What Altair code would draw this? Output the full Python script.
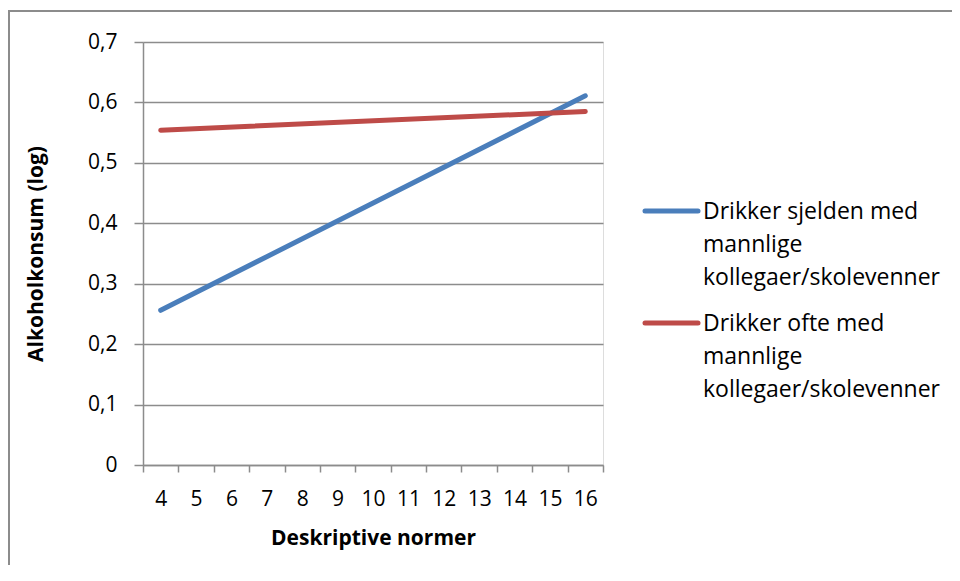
import altair as alt
import pandas as pd

# ---- data ----
x_vals = [4, 16]
blue_vals = [0.256, 0.611]
red_vals = [0.554, 0.585]
series_names = [
    "Drikker sjelden med mannlige kollegaer/skolevenner",
    "Drikker ofte med mannlige kollegaer/skolevenner",
]
legend_lines = [
    "Drikker sjelden med\nmannlige\nkollegaer/skolevenner",
    "Drikker ofte med\nmannlige\nkollegaer/skolevenner",
]
colors = ["#4A7EBB", "#BE4B48"]
x_ticks = [3.5 + 0.5 * i for i in range(27)]
y_ticks = [0, 0.1, 0.2, 0.3, 0.4, 0.5, 0.6, 0.7]

rows = []
for x, v in zip(x_vals, blue_vals):
    rows.append({"x": x, "y": v, "series": series_names[0]})
for x, v in zip(x_vals, red_vals):
    rows.append({"x": x, "y": v, "series": series_names[1]})
df = pd.DataFrame(rows)

FONT = "Open Sans"
GRID = "#8C8C8C"

x_enc = alt.X(
    "x:Q",
    scale=alt.Scale(domain=[3.5, 16.5], nice=False, zero=False),
    axis=alt.Axis(
        values=x_ticks,
        title="Deskriptive normer",
        titleFont=FONT,
        titleFontSize=21,
        titleFontWeight="bold",
        titleColor="black",
        titlePadding=18,
        labelFont=FONT,
        labelFontSize=21,
        labelColor="black",
        labelPadding=16,
        labelOverlap=False,
        labelBound=False,
        labelFlush=False,
        labelExpr="datum.value % 1 == 0 ? format(datum.value, 'd') : ''",
        tickSize=7,
        tickColor=GRID,
        tickWidth=1.5,
        tickOpacity={"condition": {"test": "datum.value % 1 == 0", "value": 0}, "value": 1},
        domainColor=GRID,
        domainWidth=1.5,
        grid=False,
    ),
)
y_enc = alt.Y(
    "y:Q",
    scale=alt.Scale(domain=[0, 0.7], nice=False),
    axis=alt.Axis(
        values=y_ticks,
        title="Alkoholkonsum (log)",
        titleFont=FONT,
        titleFontSize=21,
        titleFontWeight="bold",
        titleColor="black",
        titlePadding=41,
        labelFont=FONT,
        labelFontSize=21,
        labelColor="black",
        labelPadding=17,
        labelExpr="datum.value == 0 ? '0' : replace(format(datum.value, '.1f'), '.', ',')",
        tickSize=9,
        tickColor=GRID,
        tickWidth=1.5,
        domainColor=GRID,
        domainWidth=1.5,
        grid=True,
        gridColor=GRID,
        gridWidth=1.5,
    ),
)

# outer frame: left and top edges only (the others fall outside the page)
frame_left = alt.Chart(pd.DataFrame({"a": [0]})).mark_rule(color="#8C8C8C", strokeWidth=2).encode(
    x=alt.value(-134), y=alt.value(-32), y2=alt.value(540)
)
frame_top = alt.Chart(pd.DataFrame({"a": [0]})).mark_rule(color="#8C8C8C", strokeWidth=2).encode(
    x=alt.value(-135), x2=alt.value(815), y=alt.value(-31)
)

lines = alt.Chart(df).mark_line(strokeWidth=5, strokeCap="round").encode(
    x=x_enc,
    y=y_enc,
    color=alt.Color("series:N", scale=alt.Scale(domain=series_names, range=colors), legend=None),
)

layers = [lines, frame_left, frame_top]

# manual legend
legend_df = pd.DataFrame({"series": series_names, "label": legend_lines})
sym_y = [169, 281]
for i in range(2):
    sub = legend_df.iloc[[i]]
    sym = alt.Chart(sub).mark_rule(strokeWidth=5, strokeCap="round", color=colors[i]).encode(
        x=alt.value(502), x2=alt.value(555), y=alt.value(sym_y[i])
    )
    txt = alt.Chart(sub).mark_text(
        align="left", baseline="alphabetic", font=FONT, fontSize=23, lineBreak="\n",
        lineHeight=33, color="black",
    ).encode(
        x=alt.value(560), y=alt.value(sym_y[i] + 8), text="label:N"
    )
    layers += [sym, txt]

chart = alt.layer(*layers).properties(
    width=460,
    height=423,
    autosize=alt.AutoSizeParams(type="none"),
    padding={"left": 135, "top": 34, "right": 349, "bottom": 100},
).configure_view(stroke=None).configure(background="white")

chart.save("out.html", embed_options={"renderer": "svg", "actions": False})
